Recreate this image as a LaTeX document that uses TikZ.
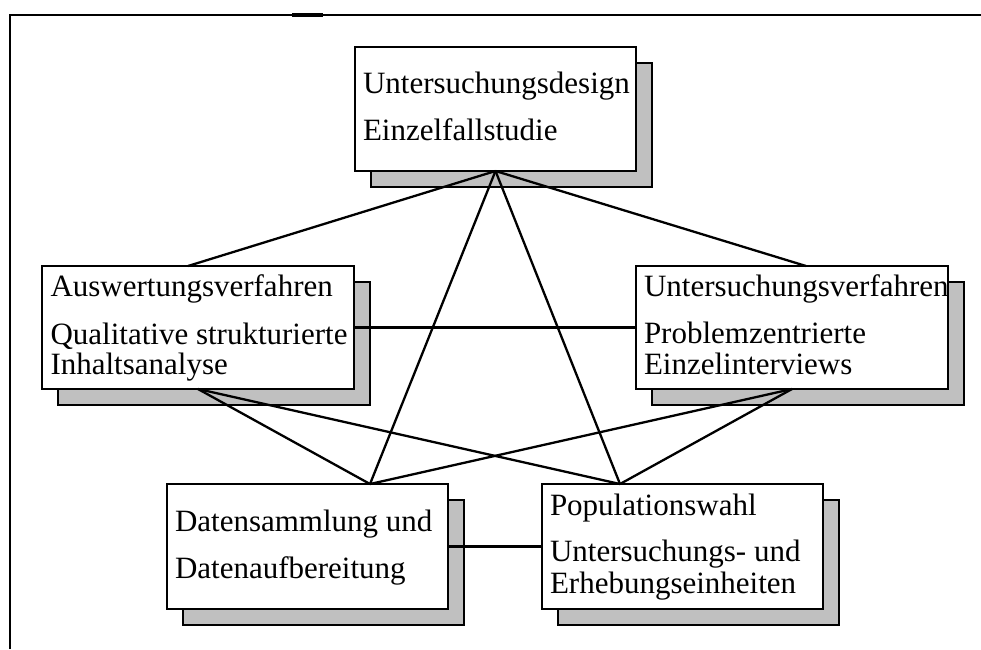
\documentclass[tikz,border=0pt]{standalone}
\usepackage{fontspec}
\setmainfont{Liberation Serif}
\usetikzlibrary{calc}
\definecolor{shadowgray}{RGB}{192,192,192}
\begin{document}
\begin{tikzpicture}[x=1pt,y=-1pt,
  card/.style={draw=black, line width=2.3pt, fill=white, inner sep=0pt, outer sep=0pt, anchor=north west},
  cardshadow/.style={draw=black, line width=2.3pt, fill=shadowgray, inner sep=0pt, outer sep=0pt, anchor=north west},
  txt/.style={inner sep=0pt, outer sep=0pt, anchor=base west, font=\fontsize{31}{31}\selectfont},
  link/.style={draw=black, line width=2.3pt},
  framestyle/.style={draw=black, line width=2.3pt}]
\useasboundingbox (0,0) rectangle (981,649);
% frame
\draw[framestyle] (10,649) -- (10,15) -- (981,15);
\draw[black, line width=3.3pt] (292,15) -- (323,15);
% shadows
\node[cardshadow, minimum width=281pt, minimum height=124pt] (Ts) at (371,63) {};
\node[cardshadow, minimum width=312pt, minimum height=123pt] (As) at (58,282) {};
\node[cardshadow, minimum width=312pt, minimum height=123pt] (Us) at (652,282) {};
\node[cardshadow, minimum width=281pt, minimum height=125pt] (Ds) at (183,500) {};
\node[cardshadow, minimum width=281pt, minimum height=125pt] (Ps) at (558,500) {};
% boxes
\node[card, minimum width=281pt, minimum height=124pt] (T) at (355,47) {};
\node[card, minimum width=312pt, minimum height=123pt] (A) at (42,266) {};
\node[card, minimum width=312pt, minimum height=123pt] (U) at (636,266) {};
\node[card, minimum width=281pt, minimum height=125pt] (D) at (167,484) {};
\node[card, minimum width=281pt, minimum height=125pt] (P) at (542,484) {};
% connector end points
\coordinate (Atop) at ($(A.north west)+(146,0)$);
\coordinate (Utop) at ($(U.north west)+(170,0)$);
\coordinate (Dtop) at ($(D.north west)+(203,0)$);
\coordinate (Ptop) at ($(P.north west)+(78,0)$);
% connectors
\draw[link] (T.south) -- (Atop);
\draw[link] (T.south) -- (Utop);
\draw[link] (T.south) -- (Dtop);
\draw[link] (T.south) -- (Ptop);
\draw[link] (A.east) -- (U.west);
\draw[link] (A.south) -- (Dtop);
\draw[link] (A.south) -- (Ptop);
\draw[link] (U.south) -- (Dtop);
\draw[link] (U.south) -- (Ptop);
\draw[link] (D.east) -- (P.west);
% texts
\node[txt] (T1) at (363,93) {Untersuchungsdesign};
\node[txt] (T2) at (363,140.5) {Einzelfallstudie};
\node[txt] (A1) at (50.5,296.7) {Auswertungsverfahren};
\node[txt] (A2) at (50.5,344.5) {Qualitative strukturierte};
\node[txt] (A3) at (50.5,374.5) {Inhaltsanalyse};
\node[txt] (U1) at (644,296.7) {Untersuchungsverfahren};
\node[txt] (U2) at (644,343.3) {Problemzentrierte};
\node[txt] (U3) at (644,374) {Einzelinterviews};
\node[txt] (D1) at (175,531.7) {Datensammlung und};
\node[txt] (D2) at (175,578.3) {Datenaufbereitung};
\node[txt] (P1) at (550,515) {Populationswahl};
\node[txt] (P2) at (550,561.7) {Untersuchungs- und};
\node[txt] (P3) at (550,593.3) {Erhebungseinheiten};
\end{tikzpicture}
\end{document}
